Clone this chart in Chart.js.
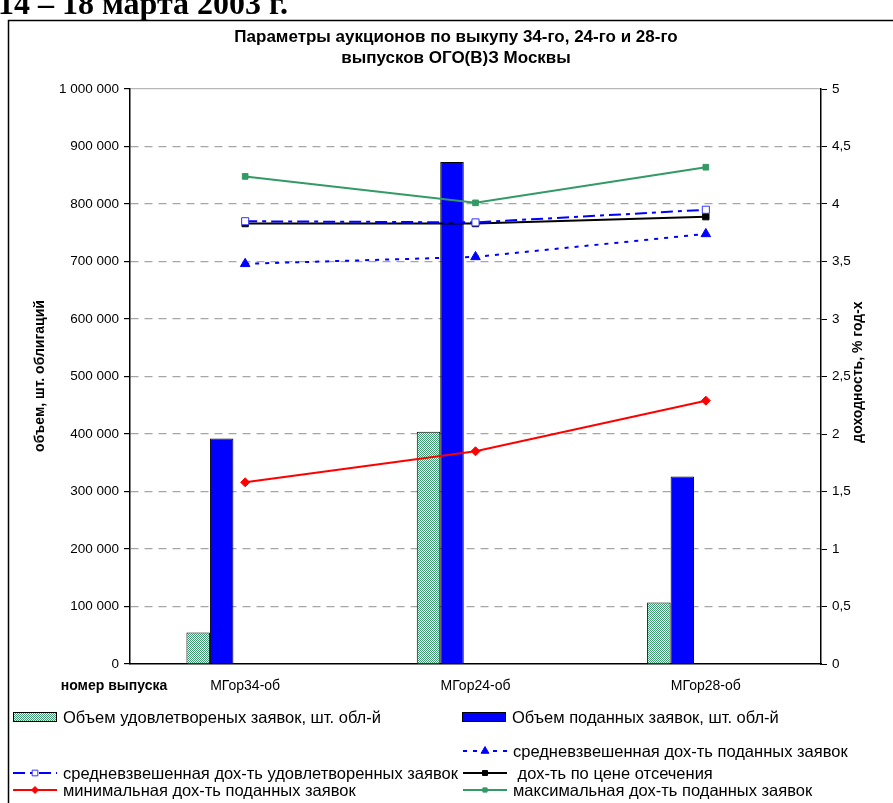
<!DOCTYPE html>
<html>
<head>
<meta charset="utf-8">
<script src="https://cdn.jsdelivr.net/npm/chart.js@4.4.1/dist/chart.umd.min.js"></script>
<style>
html,body{margin:0;padding:0;background:#fff;}
#wrap{position:relative;width:893px;height:803px;}
</style>
</head>
<body>
<div id="wrap"><canvas id="c" width="893" height="803"></canvas></div>
<script>
// ---- data ----
const categories = ['МГор34-об', 'МГор24-об', 'МГор28-об'];
const satisfiedVolume = [55000, 404000, 107000];
const submittedVolume = [392000, 873000, 326000];
const avgYieldSubmitted = [3.48, 3.54, 3.74];
const avgYieldSatisfied = [3.85, 3.84, 3.95];
const cutoffYield = [3.83, 3.83, 3.89];
const minYieldSubmitted = [1.58, 1.85, 2.29];
const maxYieldSubmitted = [4.24, 4.01, 4.32];
const spacer = [null, null, null];

const seriesLabels = [
  'Объем удовлетвореных заявок, шт. обл-й',
  'Объем поданных заявок, шт. обл-й',
  'средневзвешенная дох-ть поданных заявок',
  'средневзвешенная дох-ть удовлетворенных заявок',
  ' дох-ть по цене отсечения',
  'минимальная дох-ть поданных заявок',
  'максимальная дох-ть поданных заявок'
];
const titleLines = ['Параметры аукционов по выкупу 34-го, 24-го и 28-го', 'выпусков ОГО(В)З Москвы'];
const dateText = '14 – 18 марта 2003 г.';
const leftAxisTitle = 'объем, шт. облигаций';
const rightAxisTitle = 'доходность, % год-х';
const xAxisTitle = 'номер выпуска';

// ---- hatch pattern ----
function makePattern() {
  const p = document.createElement('canvas');
  p.width = 2; p.height = 2;
  const g = p.getContext('2d');
  g.fillStyle = '#ffffff'; g.fillRect(0, 0, 2, 2);
  g.fillStyle = '#3c9a6c';
  g.fillRect(0, 0, 1, 1); g.fillRect(1, 1, 1, 1);
  return g.createPattern(p, 'repeat');
}
const hatch = makePattern();

Chart.defaults.font.family = '"Liberation Sans", Arial, sans-serif';
Chart.defaults.color = '#000';

const lineCommon = {type: 'line', yAxisID: 'y2', borderWidth: 2, tension: 0, fill: false, order: 0};

const datasets = [
  {type: 'bar', label: seriesLabels[0], data: satisfiedVolume, yAxisID: 'y', backgroundColor: hatch, borderColor: '#000', borderWidth: 1, order: 1},
  {type: 'bar', label: seriesLabels[1], data: submittedVolume, yAxisID: 'y', backgroundColor: '#0000ff', borderColor: '#000', borderWidth: 1, order: 1},
  {type: 'bar', label: '', data: spacer, yAxisID: 'y', backgroundColor: 'rgba(0,0,0,0)', borderWidth: 0, order: 1},
  {type: 'bar', label: '', data: spacer, yAxisID: 'y', backgroundColor: 'rgba(0,0,0,0)', borderWidth: 0, order: 1},
  {type: 'bar', label: '', data: spacer, yAxisID: 'y', backgroundColor: 'rgba(0,0,0,0)', borderWidth: 0, order: 1},
  Object.assign({}, lineCommon, {label: seriesLabels[2], data: avgYieldSubmitted, borderColor: '#0000ff', borderDash: [4, 6], pointStyle: 'triangle', pointRadius: 5.5, pointBackgroundColor: '#0000ff', pointBorderColor: '#0000ff', pointBorderWidth: 1}),
  Object.assign({}, lineCommon, {label: seriesLabels[3], data: avgYieldSatisfied, borderColor: '#0000ff', borderDash: [12, 5, 4, 5], pointStyle: 'rect', pointRadius: 5, pointBackgroundColor: '#ffffff', pointBorderColor: '#3333ff', pointBorderWidth: 1}),
  Object.assign({}, lineCommon, {label: seriesLabels[4], data: cutoffYield, borderColor: '#000000', pointStyle: 'rect', pointRadius: 4.5, pointBackgroundColor: '#000', pointBorderColor: '#000', pointBorderWidth: 1}),
  Object.assign({}, lineCommon, {label: seriesLabels[5], data: minYieldSubmitted, borderColor: '#ff0000', pointStyle: 'rectRot', pointRadius: 4.5, pointBackgroundColor: '#ff0000', pointBorderColor: '#ff0000', pointBorderWidth: 1}),
  Object.assign({}, lineCommon, {label: seriesLabels[6], data: maxYieldSubmitted, borderColor: '#339966', pointStyle: 'rect', pointRadius: 4, pointBackgroundColor: '#339966', pointBorderColor: '#339966', pointBorderWidth: 1})
];

function fmtThousands(v) { return String(v).replace(/\B(?=(\d{3})+(?!\d))/g, ' '); }

// legend placement: [datasetIndex, x, y]
const legendLayout = [[0, 13, 717], [1, 462, 717], [5, 463, 751], [6, 13, 773], [7, 463, 773], [8, 13, 790], [9, 463, 790]];

const extras = {
  id: 'extras',
  afterDraw(chart) {
    const ctx = chart.ctx;
    ctx.save();
    // frame
    ctx.strokeStyle = '#000'; ctx.lineWidth = 1.5; ctx.setLineDash([]);
    ctx.beginPath(); ctx.moveTo(8.5, 810); ctx.lineTo(8.5, 20.5); ctx.lineTo(900, 20.5); ctx.stroke();
    // date heading (clipped at top)
    ctx.fillStyle = '#000';
    ctx.font = 'bold 32px "Liberation Serif", "Times New Roman", serif';
    ctx.textAlign = 'left'; ctx.textBaseline = 'alphabetic';
    ctx.fillText(dateText, -2, 14);
    // title
    ctx.font = 'bold 17px "Liberation Sans", Arial, sans-serif';
    ctx.textAlign = 'center'; ctx.textBaseline = 'middle';
    ctx.fillText(titleLines[0], 456, 37);
    ctx.fillText(titleLines[1], 456, 58);
    // axis titles
    ctx.font = 'bold 14px "Liberation Sans", Arial, sans-serif';
    ctx.save(); ctx.translate(40, 376); ctx.rotate(-Math.PI / 2); ctx.fillText(leftAxisTitle, 0, 0); ctx.restore();
    ctx.save(); ctx.translate(858, 372); ctx.rotate(-Math.PI / 2); ctx.fillText(rightAxisTitle, 0, 0); ctx.restore();
    ctx.fillText(xAxisTitle, 114, 686);
    // legend
    ctx.font = '16.5px "Liberation Sans", Arial, sans-serif';
    ctx.textAlign = 'left';
    legendLayout.forEach(([di, x, y]) => {
      const ds = chart.data.datasets[di];
      if (ds.type === 'bar') {
        ctx.fillStyle = ds.backgroundColor;
        ctx.fillRect(x, y - 5, 44, 10);
        ctx.strokeStyle = '#000'; ctx.lineWidth = 1; ctx.setLineDash([]);
        ctx.strokeRect(x + 0.5, y - 5 + 0.5, 43, 9);
      } else {
        ctx.strokeStyle = ds.borderColor; ctx.lineWidth = 2;
        ctx.setLineDash(ds.borderDash || []);
        ctx.beginPath(); ctx.moveTo(x, y); ctx.lineTo(x + 44, y); ctx.stroke();
        ctx.setLineDash([]);
        ctx.fillStyle = ds.pointBackgroundColor; ctx.strokeStyle = ds.pointBorderColor;
        ctx.lineWidth = ds.pointBorderWidth;
        Chart.helpers.drawPoint(ctx, {pointStyle: ds.pointStyle, radius: ds.pointRadius - 1, borderWidth: ds.pointBorderWidth, rotation: 0}, x + 22, y);
      }
      ctx.fillStyle = '#000';
      ctx.fillText(ds.label, x + 50, y + 1);
    });
    ctx.restore();
  }
};

new Chart(document.getElementById('c'), {
  data: {labels: categories, datasets: datasets},
  options: {
    responsive: false,
    animation: false,
    layout: {padding: {left: 0, right: 0, top: 89, bottom: 0}},
    datasets: {bar: {barPercentage: 1, categoryPercentage: 0.51}},
    plugins: {legend: {display: false}, tooltip: {enabled: false}, title: {display: false}},
    scales: {
      x: {
        type: 'category',
        offset: true,
        grid: {display: true, drawOnChartArea: false, drawTicks: false},
        border: {color: '#000', width: 1.5},
        ticks: {font: {size: 14}, color: '#000', padding: 14},
        afterFit(s) { s.height = 139; }
      },
      y: {
        position: 'left', min: 0, max: 1000000,
        ticks: {stepSize: 100000, font: {size: 13.5}, color: '#000', padding: 5, callback: v => fmtThousands(v)},
        grid: {
          color: c => c.tick.value === 0 ? 'rgba(0,0,0,0)' : (c.tick.value === 1000000 ? '#b8b8b8' : '#a6a6a6'),
          lineWidth: 1.2, tickLength: 6, tickColor: '#000'
        },
        border: {color: '#000', width: 1.5, dash: c => c.tick && c.tick.value === 1000000 ? [] : [8, 6]},
        afterFit(s) { s.width = 130; }
      },
      y2: {
        position: 'right', min: 0, max: 5,
        ticks: {stepSize: 0.5, font: {size: 13.5}, color: '#000', padding: 5, callback: v => String(v).replace('.', ',')},
        grid: {drawOnChartArea: false, tickLength: 6, tickColor: '#000'},
        border: {color: '#000', width: 1.5},
        afterFit(s) { s.width = 72; }
      }
    }
  },
  plugins: [extras]
});
</script>
</body>
</html>
